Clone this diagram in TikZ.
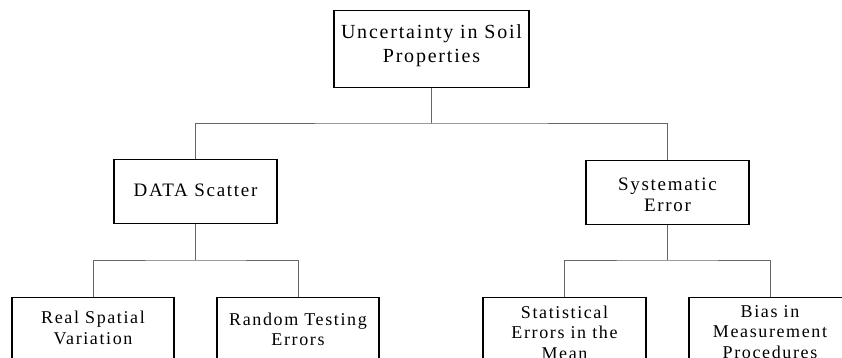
\documentclass[tikz,border=0pt]{standalone}
\usepackage{fontspec}
\setmainfont{Liberation Serif}[LetterSpace=9]
\usepackage{tikz}
\usetikzlibrary{positioning}
% width, height, space above the first line, text
\newcommand{\boxtext}[4]{\parbox[c][#2][t]{#1}{\centering\vspace*{#3}#4}}
\tikzset{
	box/.style={draw=black,line width=1.1pt,fill=white,inner sep=0pt,font=\fontsize{18}{20.5}\selectfont},
	link/.style={draw=black!60,line width=0.8pt}
}

\begin{document}
\begin{tikzpicture}[x=1pt,y=-1pt]
	\useasboundingbox (0,0) rectangle (842,357);
	\clip (0,0) rectangle (842,357);
	% top level
	\node[box,anchor=north,font=\fontsize{20}{24}\selectfont] (soil) at (431.5,10) {\boxtext{195pt}{77pt}{14pt}{Uncertainty in Soil\\Properties}};
	% second level
	\node[box,anchor=north,font=\fontsize{19}{21}\selectfont] (scatter) at (195.5,159) {\boxtext{163pt}{64pt}{24.5pt}{DATA Scatter}};
	\node[box,anchor=north,font=\fontsize{19}{21}\selectfont] (system) at (667.5,160) {\boxtext{163pt}{64pt}{17.5pt}{Systematic\\Error}};
	% third level
	\node[box,anchor=north] (spatial) at (93,297) {\boxtext{162pt}{80pt}{13.5pt}{Real Spatial\\Variation}};
	\node[box,anchor=north] (testing) at (298,297) {\boxtext{162pt}{80pt}{15pt}{Random Testing\\Errors}};
	\node[box,anchor=north] (mean) at (564.5,297) {\boxtext{163pt}{80pt}{8pt}{Statistical\\Errors in the\\Mean}};
	\node[box,anchor=north] (bias) at (770,297) {\boxtext{162pt}{80pt}{8pt}{Bias in\\Measurement\\Procedures}};
	% connectors
	\coordinate (j1) at (431.5,123);
	\coordinate (j2) at (195.5,260);
	\coordinate (j3) at (667.5,260);
	\draw[link] (soil.south) -- (j1);
	\draw[link] (scatter.north) |- (j1) -| (system.north);
	\draw[link] (scatter.south) -- (j2);
	\draw[link] (spatial.north) |- (j2) -| (testing.north);
	\draw[link] (system.south) -- (j3);
	\draw[link] (mean.north) |- (j3) -| (bias.north);
\end{tikzpicture}
\end{document}
